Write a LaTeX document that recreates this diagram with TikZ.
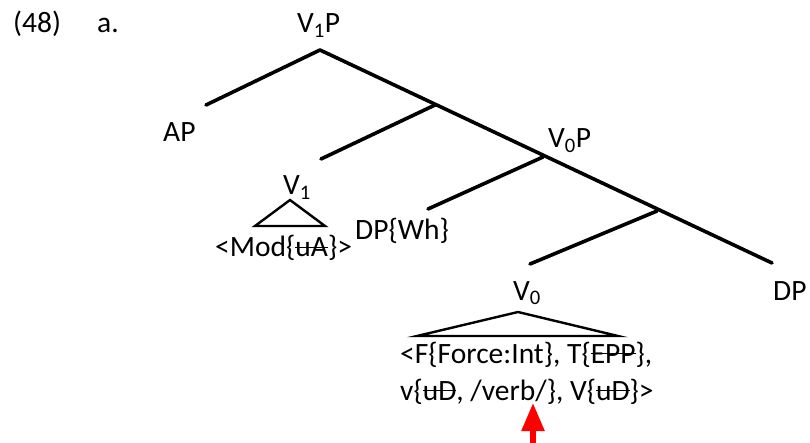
\documentclass[tikz,border=0pt]{standalone}
\usepackage{fontspec}
\setmainfont{Carlito}
\usetikzlibrary{arrows.meta}

\tikzset{
    lbl/.style={inner sep=0pt, anchor=base west, font=\fontsize{29.5}{35}\selectfont},
    branch/.style={black, line width=3.6pt},
    tri/.style={black, line width=2.4pt, line join=miter}
}
\newcommand{\strk}[1]{\begingroup\setbox0\hbox{#1}\rlap{\rule[0.3em]{\wd0}{1.6pt}}\box0\endgroup}

\begin{document}
\begin{tikzpicture}[x=1pt, y=-1pt, line cap=round, line join=round]
\useasboundingbox (0,0) rectangle (810,443);

% labels
\node[lbl] (num) at (13,33) {(48)};
\node[lbl] (sub) at (97,33) {a.};
\node[lbl] (v1p) at (297,33) {V\textsubscript{1}P};
\node[lbl] (ap) at (163,142) {AP};
\node[lbl] (v0p) at (548,148) {V\textsubscript{0}P};
\node[lbl] (v1) at (283,195) {V\textsubscript{1}};
\node[lbl] (mod) at (215,257) {<Mod\{\strk{uA}\}>};
\node[lbl] (wh) at (355,240) {DP\{Wh\}};
\node[lbl] (dp) at (773,300) {DP};
\node[lbl] (v0) at (513,300) {V\textsubscript{0}};
\node[lbl] (featA) at (400,363) {<F\{Force:Int\}, T\{\strk{EPP}\},};
\node[lbl] (featB) at (400,400) {v\{\strk{uD}, /verb/\}, V\{\strk{uD}\}>};

% branch points
\coordinate (top) at (320,50);
\coordinate (b1) at (435,105);
\coordinate (b2) at (543,157);
\coordinate (b3) at (657,211);
\coordinate (eDP) at (772,263);
\coordinate (eAP) at (206,105);
\coordinate (eV1) at (321,159);
\coordinate (eWh) at (428,209);
\coordinate (eV0) at (530,264);

\draw[branch] (eAP) -- (top) -- (eDP);
\draw[branch] (b1) -- (eV1);
\draw[branch] (b2) -- (eWh);
\draw[branch] (b3) -- (eV0);

% triangles
\draw[tri] (290,200) -- (255,226) -- (325,226) -- cycle;
\draw[tri] (518,312) -- (417,336) -- (618,336) -- cycle;

% pointer
\coordinate (tip) at (533,403);
\coordinate (foot) at (533,446);
\draw[red, line width=5.5pt, line cap=butt, -{Triangle[width=22pt, length=28pt]}] (foot) -- (tip);
\end{tikzpicture}
\end{document}
